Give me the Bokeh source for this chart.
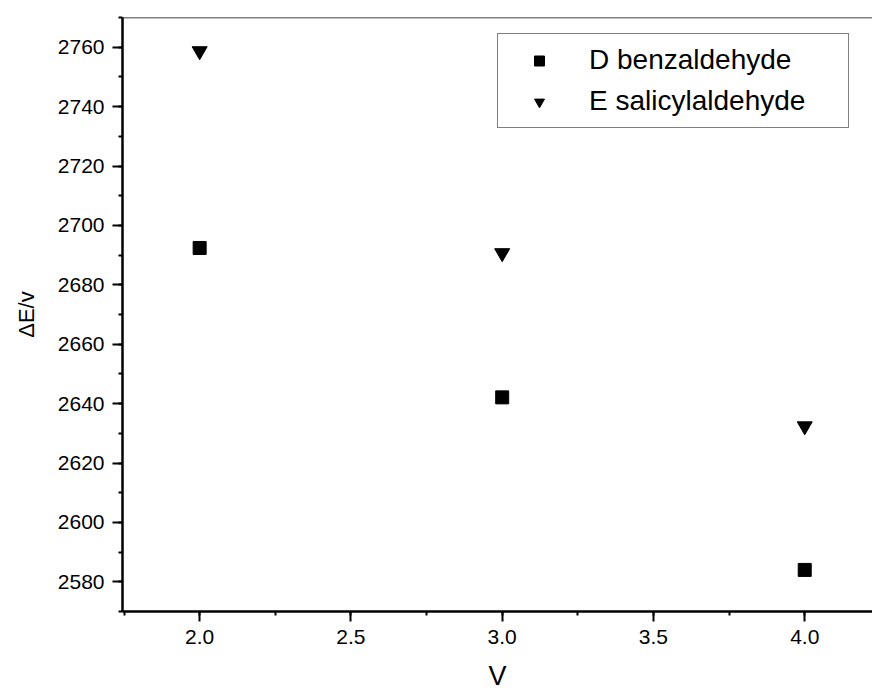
from bokeh.plotting import figure
from bokeh.models import (ColumnDataSource, Range1d, SingleIntervalTicker, Legend,
                          LegendItem, Span, PrintfTickFormatter)
from bokeh.embed import file_html
from bokeh.resources import INLINE

# ---- data ----
v_values = [2.0, 3.0, 4.0]
d_benzaldehyde = [2692.4, 2642.1, 2584.0]
e_salicylaldehyde = [2758.7, 2690.7, 2632.4]
series_names = ["D benzaldehyde", "E salicylaldehyde"]
x_label = "V"
y_label = "\u0394E/v"

FONT = "Liberation Sans"

p = figure(width=872, height=695, output_backend="svg", toolbar_location=None,
           x_range=Range1d(1.745, 4.224), y_range=Range1d(2570, 2770),
           min_border_left=122, min_border_right=0, min_border_top=17,
           min_border_bottom=84)
p.outline_line_color = None
p.grid.grid_line_color = None
p.background_fill_color = "white"
p.border_fill_color = "white"

src_d = ColumnDataSource(dict(x=v_values, y=d_benzaldehyde))
src_e = ColumnDataSource(dict(x=v_values, y=e_salicylaldehyde))
r_d = p.scatter("x", "y", source=src_d, marker="square", size=13,
                fill_color="black", line_color="black")
r_e = p.scatter("x", "y", source=src_e, marker="inverted_triangle", size=15,
                fill_color="black", line_color="black")

# axes styling
p.xaxis.ticker = SingleIntervalTicker(interval=0.5, num_minor_ticks=2)
p.xaxis.formatter = PrintfTickFormatter(format="%.1f")
p.yaxis.ticker = SingleIntervalTicker(interval=20, num_minor_ticks=2)
for ax in (p.xaxis[0], p.yaxis[0]):
    ax.axis_line_width = 2.5
    ax.axis_line_color = "black"
    ax.major_tick_line_width = 2
    ax.minor_tick_line_width = 2
    ax.major_tick_out = 10
    ax.major_tick_in = 0
    ax.minor_tick_out = 4
    ax.minor_tick_in = 0
    ax.major_label_text_font = FONT
    ax.major_label_text_font_size = "21px"
    ax.major_label_text_color = "black"
    ax.axis_label_text_font = FONT
    ax.axis_label_text_font_style = "normal"
    ax.axis_label_text_color = "black"
    ax.major_label_standoff = 8

p.xaxis.axis_label = x_label
p.xaxis.axis_label_text_font_size = "27px"
p.xaxis.axis_label_standoff = 14
p.yaxis.axis_label = y_label
p.yaxis.axis_label_text_font_size = "22px"
p.yaxis.axis_label_standoff = 16

# top frame line
p.add_layout(Span(location=2770, dimension="width", line_color="black",
                  line_width=1.5))

legend = Legend(items=[LegendItem(label=series_names[0], renderers=[r_d]),
                       LegendItem(label=series_names[1], renderers=[r_e])],
                location=(375, 483), margin=0, padding=10, spacing=9,
                glyph_width=62, glyph_height=25, label_standoff=19,
                label_width=249, label_text_font=FONT,
                label_text_font_size="28px", label_text_color="black",
                border_line_color="black", border_line_width=1.5,
                background_fill_alpha=1.0)
p.add_layout(legend)

open("out.html", "w").write(file_html(p, INLINE))
